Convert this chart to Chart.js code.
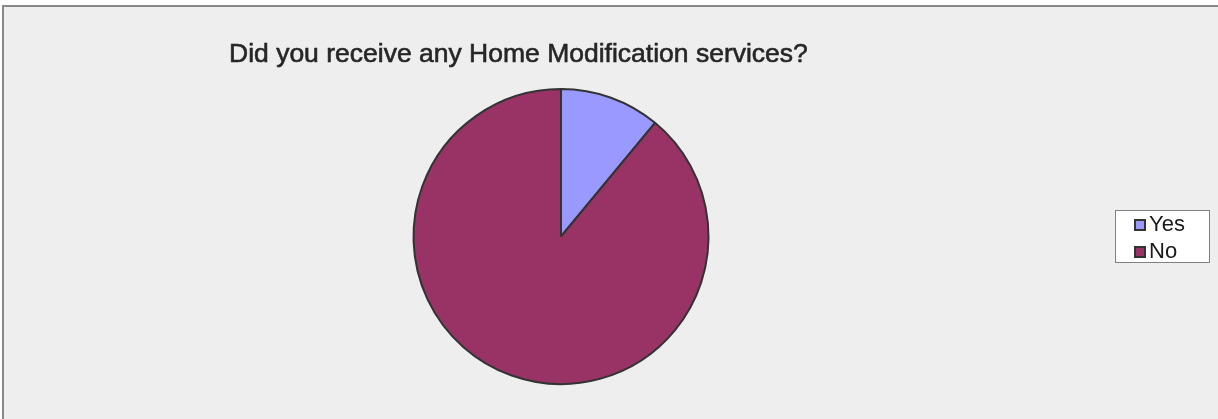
<!DOCTYPE html>
<html>
<head>
<meta charset="utf-8">
<script src="https://cdn.jsdelivr.net/npm/chart.js@4"></script>
<style>
  html, body { margin: 0; padding: 0; background: #ffffff; }
  #wrap { position: relative; width: 1218px; height: 419px; overflow: hidden; }
  #panel {
    position: absolute; left: 2px; top: 5px; width: 1230px; height: 430px;
    background: #eeeeee; border-left: 2px solid #888888; border-top: 2px solid #888888;
  }
  #chart { position: absolute; left: 0; top: 0; }
</style>
</head>
<body>
<div id="wrap">
  <div id="panel"></div>
  <canvas id="chart" width="1218" height="419"></canvas>
</div>
<script>
// Survey answers
const titleText = 'Did you receive any Home Modification services?';
const categories = ['Yes', 'No'];
const responses = [11, 89];
const sliceColors = ['#9999ff', '#993366'];

const FONT = '"Liberation Sans", Arial, sans-serif';

// Title drawn at a fixed spot above the pie, slightly heavier than regular
const titlePlugin = {
  id: 'fixedTitle',
  afterDraw(chart) {
    const ctx = chart.ctx;
    ctx.save();
    ctx.font = '26.5px ' + FONT;
    ctx.fillStyle = '#262626';
    ctx.strokeStyle = '#262626';
    ctx.lineWidth = 0.6;
    ctx.textBaseline = 'alphabetic';
    ctx.textAlign = 'left';
    ctx.fillText(titleText, 229, 62);
    ctx.strokeText(titleText, 229, 62);
    ctx.restore();
  }
};

// Boxed legend on the right, built from the chart's labels and colours
const boxLegendPlugin = {
  id: 'boxLegend',
  afterDraw(chart) {
    const ctx = chart.ctx;
    const labels = chart.data.labels;
    const colors = chart.data.datasets[0].backgroundColor;
    const x0 = 1115.5, y0 = 210.5, w = 94, h = 52;
    ctx.save();
    ctx.fillStyle = '#ffffff';
    ctx.fillRect(x0, y0, w, h);
    ctx.strokeStyle = '#808080';
    ctx.lineWidth = 1;
    ctx.strokeRect(x0, y0, w, h);
    ctx.font = '22px ' + FONT;
    ctx.textBaseline = 'alphabetic';
    ctx.textAlign = 'left';
    labels.forEach((lab, i) => {
      const base = 231 + i * 27;
      ctx.fillStyle = colors[i];
      ctx.fillRect(1135, base - 11, 10, 10);
      ctx.strokeStyle = '#333333';
      ctx.lineWidth = 2;
      ctx.strokeRect(1135, base - 11, 10, 10);
      ctx.fillStyle = '#1a1a1a';
      ctx.fillText(lab, 1149, base);
    });
    ctx.restore();
  }
};

new Chart(document.getElementById('chart'), {
  type: 'pie',
  data: {
    labels: categories,
    datasets: [{
      data: responses,
      backgroundColor: sliceColors,
      borderColor: '#333333',
      borderWidth: 2,
      hoverOffset: 0
    }]
  },
  options: {
    responsive: false,
    animation: false,
    events: [],
    layout: { padding: { left: 0, right: 96, top: 88, bottom: 34 } },
    plugins: {
      legend: { display: false },
      title: { display: false },
      tooltip: { enabled: false }
    }
  },
  plugins: [titlePlugin, boxLegendPlugin]
});
</script>
</body>
</html>
